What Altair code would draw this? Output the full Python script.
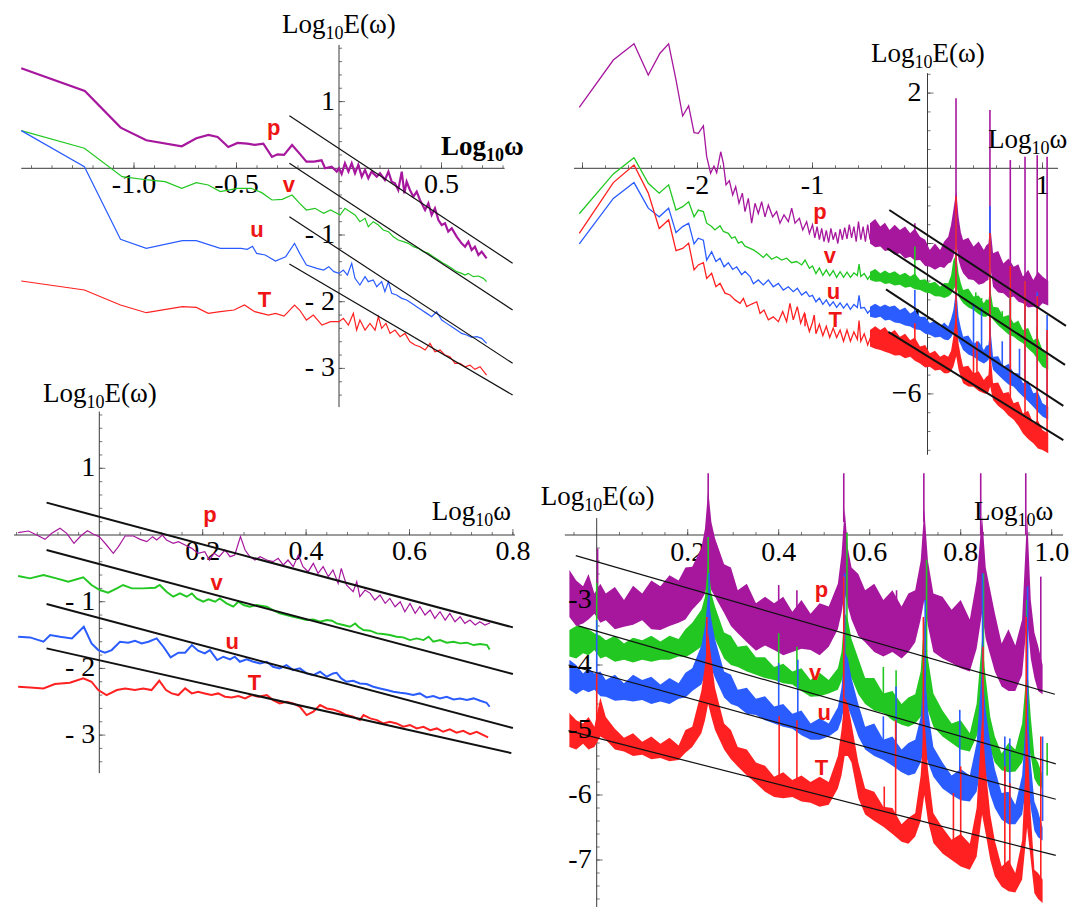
import altair as alt
import pandas as pd

PURPLE = "#A6179E"
GREEN = "#22C722"
BLUE = "#2A5CFF"
RED = "#FF2121"
NAME_RED = "#EE1515"
AXIS = "#3a3a3a"
FIT = "#111111"
SERIF = "Liberation Serif"
SANS = "Liberation Sans"

# ================= Panel 1 (top-left): (Log10 w, Log10 E) =================
p1_p = [(-1.55, 1.50), (-1.24, 1.16), (-1.065, 0.61), (-0.94, 0.42), (-0.767, 0.33), (-0.696, 0.45),
        (-0.637, 0.50), (-0.592, 0.47), (-0.54, 0.32), (-0.495, 0.38), (-0.448, 0.37), (-0.411, 0.35),
        (-0.369, 0.37), (-0.327, 0.17), (-0.30, 0.21), (-0.268, 0.20), (-0.229, 0.35), (-0.192, 0.22),
        (-0.159, 0.10), (-0.122, 0.10), (-0.085, 0.12), (-0.068, 0.0), (-0.036, 0.025), (-0.011, -0.05),
        (0.0, 0.0), (0.013, -0.085), (0.029, 0.075), (0.046, -0.05), (0.062, 0.075), (0.078, -0.075),
        (0.094, 0.05), (0.111, -0.125), (0.127, -0.025), (0.143, -0.15), (0.159, -0.05), (0.184, -0.125),
        (0.2, -0.075), (0.224, -0.175), (0.241, -0.05), (0.257, -0.2), (0.273, -0.225), (0.289, -0.325),
        (0.306, -0.05), (0.319, -0.375), (0.33, -0.2), (0.346, -0.325), (0.363, -0.425), (0.379, -0.35),
        (0.395, -0.475), (0.42, -0.625), (0.436, -0.525), (0.452, -0.7), (0.468, -0.6), (0.485, -0.775),
        (0.501, -0.85), (0.517, -0.825), (0.533, -0.95), (0.55, -0.9), (0.574, -1.025), (0.598, -1.125),
        (0.615, -1.175), (0.631, -1.1), (0.647, -1.225), (0.663, -1.175), (0.68, -1.3), (0.696, -1.25),
        (0.72, -1.35)]
p1_v = [(-1.55, 0.565), (-1.242, 0.30), (-1.058, -0.125), (-0.932, -0.175), (-0.848, -0.2), (-0.767, -0.3),
        (-0.696, -0.215), (-0.638, -0.25), (-0.579, -0.35), (-0.495, -0.3), (-0.428, -0.3), (-0.377, -0.365),
        (-0.327, -0.475), (-0.277, -0.465), (-0.229, -0.4), (-0.192, -0.525), (-0.159, -0.625),
        (-0.117, -0.6), (-0.075, -0.675), (-0.041, -0.625), (0.005, -0.70), (0.029, -0.60), (0.054, -0.65),
        (0.078, -0.70), (0.102, -0.80), (0.127, -0.75), (0.143, -0.875), (0.167, -0.80), (0.192, -0.85),
        (0.216, -0.925), (0.241, -0.95), (0.265, -1.025), (0.289, -1.075), (0.314, -1.10), (0.338, -1.125),
        (0.363, -1.175), (0.387, -1.20), (0.411, -1.25), (0.436, -1.275), (0.46, -1.325), (0.485, -1.375),
        (0.509, -1.425), (0.525, -1.45), (0.55, -1.50), (0.574, -1.55), (0.598, -1.575), (0.615, -1.60),
        (0.631, -1.575), (0.655, -1.625), (0.68, -1.615), (0.704, -1.65), (0.72, -1.70)]
p1_u = [(-1.55, 0.565), (-1.242, 0.025), (-1.066, -1.065), (-0.94, -1.20), (-0.764, -1.085), (-0.696, -1.085),
        (-0.579, -1.2), (-0.478, -1.2), (-0.448, -1.215), (-0.422, -1.17), (-0.402, -1.275), (-0.36, -1.30),
        (-0.31, -1.39), (-0.26, -1.325), (-0.217, -1.125), (-0.192, -1.275), (-0.159, -1.45), (-0.108, -1.50),
        (-0.075, -1.525), (-0.05, -1.475), (-0.025, -1.55), (0.0, -1.575), (0.021, -1.525), (0.041, -1.6),
        (0.062, -1.425), (0.078, -1.65), (0.102, -1.75), (0.127, -1.625), (0.143, -1.70), (0.167, -1.675),
        (0.184, -1.775), (0.208, -1.70), (0.224, -1.85), (0.241, -1.70), (0.257, -1.875), (0.281, -1.90),
        (0.306, -1.95), (0.33, -1.975), (0.354, -2.025), (0.379, -2.075), (0.403, -2.125), (0.428, -2.175),
        (0.452, -2.225), (0.476, -2.15), (0.501, -2.275), (0.525, -2.325), (0.55, -2.375), (0.574, -2.425),
        (0.598, -2.475), (0.623, -2.50), (0.647, -2.535), (0.672, -2.525), (0.696, -2.55), (0.72, -2.625)]
p1_T = [(-1.55, -1.69), (-1.242, -1.825), (-1.066, -2.05), (-0.94, -2.165), (-0.764, -2.075), (-0.696, -2.085),
        (-0.638, -2.175), (-0.579, -2.15), (-0.512, -2.125), (-0.461, -2.05), (-0.411, -2.15), (-0.344, -2.20),
        (-0.31, -2.175), (-0.268, -2.215), (-0.217, -2.05), (-0.192, -2.125), (-0.159, -2.275), (-0.125, -2.20),
        (-0.083, -2.35), (-0.041, -2.30), (0.0, -2.30), (0.021, -2.25), (0.046, -2.35), (0.07, -2.175),
        (0.086, -2.425), (0.102, -2.275), (0.127, -2.425), (0.151, -2.325), (0.176, -2.425), (0.192, -2.225),
        (0.208, -2.40), (0.229, -2.325), (0.249, -2.475), (0.273, -2.425), (0.298, -2.525), (0.322, -2.475),
        (0.346, -2.60), (0.371, -2.65), (0.395, -2.675), (0.42, -2.725), (0.444, -2.625), (0.468, -2.75),
        (0.493, -2.725), (0.517, -2.80), (0.541, -2.825), (0.566, -2.925), (0.59, -2.925), (0.615, -2.975),
        (0.639, -2.95), (0.663, -3.015), (0.688, -2.975), (0.72, -3.10)]
p1_fit = [(-0.242, 0.789, 0.847, -1.424), (-0.242, 0.075, 0.847, -2.124),
          (-0.242, -0.726, 0.847, -2.924), (-0.242, -1.435, 0.847, -3.40)]
p1_names = [(-0.318, 0.60, "p"), (-0.244, -0.25, "v"), (-0.40, -0.925, "u"), (-0.363, -1.975, "T")]
p1_xlabels = [(-1.0, 0, "-1.0"), (-0.5, 0, "-0.5"), (0.5, 0, "0.5")]
p1_ylabels = [(0, 1, "1"), (0, -1, "- 1"), (0, -2, "- 2"), (0, -3, "- 3")]

# ================= Panel 2 (top-right) =================
p2_p = [(-3.028, 1.62), (-2.732, 2.88), (-2.552, 3.31), (-2.428, 2.48), (-2.326, 3.06), (-2.251, 3.31),
        (-2.187, 2.35), (-2.129, 1.39), (-2.077, 1.66), (-2.03, 0.95), (-1.993, 0.93), (-1.949, 1.13),
        (-1.92, 0.31), (-1.886, -0.13), (-1.857, 0.06), (-1.833, -0.12), (-1.798, 0.44), (-1.775, 0.13),
        (-1.752, -0.44), (-1.723, -0.33), (-1.694, -0.71), (-1.668, -0.49), (-1.639, -0.93), (-1.61, -0.66),
        (-1.587, -1.15), (-1.558, -0.80), (-1.529, -1.46), (-1.5, -0.93), (-1.471, -1.20), (-1.442, -0.89),
        (-1.413, -1.29), (-1.384, -0.98), (-1.346, -1.29), (-1.312, -1.15), (-1.283, -1.46), (-1.248, -1.24),
        (-1.21, -1.42), (-1.181, -1.06), (-1.152, -1.46), (-1.114, -1.33), (-1.085, -1.64), (-1.051, -1.42),
        (-1.027, -1.73), (-1.0, -1.5), (-0.98, -1.85), (-0.96, -1.55), (-0.94, -1.9), (-0.92, -1.6),
        (-0.9, -1.95), (-0.88, -1.65), (-0.86, -1.98), (-0.84, -1.6), (-0.82, -1.9), (-0.80, -1.7),
        (-0.78, -2.0), (-0.76, -1.62), (-0.74, -1.9), (-0.72, -1.58), (-0.70, -1.88), (-0.68, -1.5),
        (-0.66, -1.85), (-0.64, -1.55), (-0.62, -1.95), (-0.60, -1.42), (-0.58, -1.9), (-0.56, -1.55),
        (-0.54, -1.95), (-0.52, -1.5), (-0.50, -1.9), (-0.48, -1.6)]
p2_v = [(-3.028, -1.21), (-2.732, -0.15), (-2.552, 0.28), (-2.428, -0.40), (-2.333, -0.66), (-2.251, -0.44),
        (-2.187, -1.11), (-2.129, -1.02), (-2.077, -0.89), (-2.03, -1.29), (-1.993, -1.11), (-1.949, -1.15),
        (-1.92, -1.46), (-1.877, -1.55), (-1.849, -1.64), (-1.804, -1.53), (-1.775, -1.68), (-1.732, -1.73),
        (-1.703, -1.86), (-1.674, -1.82), (-1.645, -1.99), (-1.616, -1.95), (-1.587, -2.07), (-1.543, -2.13),
        (-1.514, -2.17), (-1.471, -2.26), (-1.428, -2.37), (-1.399, -2.28), (-1.355, -2.42), (-1.312, -2.35),
        (-1.268, -2.44), (-1.225, -2.39), (-1.181, -2.51), (-1.138, -2.48), (-1.094, -2.57), (-1.065, -2.44),
        (-1.027, -2.66), (-1.0, -2.6), (-0.97, -2.8), (-0.94, -2.65), (-0.91, -2.85), (-0.88, -2.7),
        (-0.85, -2.86), (-0.82, -2.72), (-0.79, -2.9), (-0.76, -2.75), (-0.73, -2.9), (-0.70, -2.76),
        (-0.67, -2.9), (-0.64, -2.78), (-0.61, -2.85), (-0.595, -2.55), (-0.58, -2.88), (-0.55, -2.8),
        (-0.52, -2.95), (-0.49, -2.82)]
p2_u = [(-3.028, -2.01), (-2.732, -0.80), (-2.552, -0.38), (-2.428, -1.06), (-2.333, -1.29), (-2.251, -1.06),
        (-2.187, -1.71), (-2.129, -1.55), (-2.077, -1.46), (-2.03, -2.01), (-1.993, -1.86), (-1.949, -1.91),
        (-1.92, -2.44), (-1.877, -2.22), (-1.84, -2.48), (-1.804, -2.39), (-1.769, -2.62), (-1.732, -2.51),
        (-1.694, -2.69), (-1.659, -2.62), (-1.616, -2.83), (-1.587, -2.74), (-1.543, -2.88), (-1.514, -3.07),
        (-1.471, -2.97), (-1.428, -3.10), (-1.384, -2.97), (-1.341, -3.15), (-1.297, -3.06), (-1.254, -3.24),
        (-1.21, -3.15), (-1.167, -3.28), (-1.132, -3.19), (-1.094, -3.37), (-1.056, -3.28), (-1.027, -3.41),
        (-1.0, -3.38), (-0.97, -3.55), (-0.94, -3.45), (-0.91, -3.62), (-0.88, -3.5), (-0.85, -3.66),
        (-0.82, -3.55), (-0.79, -3.7), (-0.76, -3.58), (-0.73, -3.72), (-0.70, -3.6), (-0.67, -3.75),
        (-0.64, -3.62), (-0.61, -3.7), (-0.595, -3.38), (-0.58, -3.72), (-0.55, -3.7), (-0.52, -3.85),
        (-0.49, -3.75)]
p2_T = [(-3.028, -1.73), (-2.732, -0.38), (-2.552, 0.09), (-2.428, -0.66), (-2.333, -1.60), (-2.251, -1.37),
        (-2.187, -2.19), (-2.129, -2.13), (-2.077, -1.99), (-2.03, -2.70), (-1.993, -2.57), (-1.949, -2.51),
        (-1.92, -2.93), (-1.877, -2.79), (-1.84, -3.15), (-1.804, -3.06), (-1.761, -3.32), (-1.717, -3.37),
        (-1.674, -3.50), (-1.63, -3.59), (-1.601, -3.46), (-1.572, -3.68), (-1.529, -3.61), (-1.485, -3.55),
        (-1.456, -3.86), (-1.422, -3.77), (-1.384, -4.03), (-1.341, -3.95), (-1.297, -4.08), (-1.259, -3.81),
        (-1.225, -4.08), (-1.196, -3.59), (-1.167, -4.03), (-1.132, -3.68), (-1.103, -4.12), (-1.071, -3.86),
        (-1.027, -4.34), (-1.0, -4.1), (-0.985, -3.9), (-0.97, -4.4), (-0.94, -4.15), (-0.91, -4.45),
        (-0.88, -4.2), (-0.85, -4.5), (-0.82, -4.25), (-0.79, -4.5), (-0.76, -4.3), (-0.73, -4.6),
        (-0.70, -4.3), (-0.67, -4.6), (-0.64, -4.35), (-0.61, -4.55), (-0.595, -4.05), (-0.58, -4.6),
        (-0.55, -4.4), (-0.52, -4.7), (-0.49, -4.45)]
# dense high-frequency part: (x, upper, lower)
p2_p_band = [(-0.5, -1.46, -2.0), (-0.455, -1.35, -2.1), (-0.41, -1.55, -2.08), (-0.37, -1.45, -2.2),
             (-0.33, -1.64, -2.17), (-0.285, -1.5, -2.3), (-0.24, -1.64, -2.26), (-0.195, -1.55, -2.4),
             (-0.15, -1.73, -2.35), (-0.11, -1.6, -2.45), (-0.065, -1.82, -2.44), (-0.02, -1.9, -2.6),
             (0.02, -2.17, -2.62), (0.065, -2.0, -2.7), (0.11, -2.17, -2.62), (0.145, -1.95, -2.65),
             (0.18, -1.82, -2.53), (0.205, -1.5, -2.5), (0.225, -1.11, -2.35), (0.25, -0.6, -2.0),
             (0.27, -1.29, -2.44), (0.29, -1.7, -2.65), (0.31, -1.91, -2.79), (0.355, -1.85, -2.95),
             (0.4, -2.08, -2.97), (0.445, -1.95, -3.1), (0.49, -2.17, -3.06), (0.51, -2.05, -3.0),
             (0.53, -2.0, -2.97), (0.545, -1.5, -2.6), (0.57, -2.26, -3.15), (0.615, -2.2, -3.3),
             (0.66, -2.53, -3.32), (0.705, -2.4, -3.45), (0.75, -2.62, -3.41), (0.79, -2.55, -3.55),
             (0.83, -2.88, -3.59), (0.875, -2.7, -3.7), (0.92, -2.97, -3.68), (0.96, -2.75, -3.72),
             (1.0, -2.88, -3.59), (1.05, -3.0, -3.65)]
p2_v_band = [(-0.5, -2.75, -2.97), (-0.455, -2.68, -3.02), (-0.41, -2.79, -3.01), (-0.37, -2.72, -3.08),
             (-0.33, -2.79, -3.06), (-0.285, -2.74, -3.12), (-0.24, -2.84, -3.10), (-0.195, -2.78, -3.18),
             (-0.15, -2.88, -3.15), (-0.11, -2.8, -3.22), (-0.065, -2.97, -3.24), (-0.02, -2.95, -3.3),
             (0.02, -3.06, -3.32), (0.065, -3.02, -3.4), (0.11, -3.15, -3.41), (0.145, -3.05, -3.45),
             (0.18, -3.06, -3.41), (0.205, -2.85, -3.35), (0.225, -2.44, -3.24), (0.25, -2.3, -3.1),
             (0.27, -2.79, -3.41), (0.29, -3.05, -3.5), (0.31, -3.24, -3.59), (0.355, -3.2, -3.7),
             (0.4, -3.41, -3.77), (0.445, -3.38, -3.88), (0.49, -3.59, -3.95), (0.51, -3.48, -3.95),
             (0.53, -3.5, -3.9), (0.545, -3.2, -3.85), (0.57, -3.68, -4.03), (0.615, -3.7, -4.18),
             (0.66, -3.95, -4.30), (0.705, -3.9, -4.42), (0.75, -4.12, -4.48), (0.79, -4.05, -4.58),
             (0.83, -4.30, -4.65), (0.875, -4.25, -4.8), (0.92, -4.57, -4.92), (0.96, -4.5, -5.1),
             (1.0, -4.83, -5.28), (1.05, -5.0, -5.36)]
p2_u_band = [(-0.5, -3.68, -3.95), (-0.455, -3.6, -3.98), (-0.41, -3.68, -3.95), (-0.37, -3.62, -4.05),
             (-0.33, -3.68, -4.03), (-0.285, -3.65, -4.1), (-0.24, -3.77, -4.12), (-0.195, -3.7, -4.18),
             (-0.15, -3.86, -4.21), (-0.11, -3.78, -4.28), (-0.065, -3.95, -4.30), (-0.02, -3.95, -4.4),
             (0.02, -4.12, -4.43), (0.065, -4.05, -4.5), (0.11, -4.21, -4.48), (0.145, -4.1, -4.55),
             (0.18, -4.21, -4.57), (0.205, -4.0, -4.5), (0.225, -3.77, -4.39), (0.25, -3.2, -4.2),
             (0.27, -3.95, -4.57), (0.29, -4.25, -4.7), (0.31, -4.48, -4.83), (0.355, -4.45, -4.95),
             (0.4, -4.66, -5.01), (0.445, -4.6, -5.12), (0.49, -4.83, -5.19), (0.51, -4.72, -5.15),
             (0.53, -4.7, -5.1), (0.545, -4.2, -5.0), (0.57, -5.01, -5.36), (0.615, -5.0, -5.5),
             (0.66, -5.28, -5.63), (0.705, -5.2, -5.75), (0.75, -5.45, -5.81), (0.79, -5.45, -5.95),
             (0.83, -5.72, -6.07), (0.875, -5.65, -6.2), (0.92, -5.98, -6.34), (0.96, -5.95, -6.48),
             (1.0, -6.25, -6.6), (1.05, -6.34, -6.69)]
p2_T_band = [(-0.5, -4.30, -4.74), (-0.455, -4.2, -4.8), (-0.41, -4.30, -4.83), (-0.37, -4.22, -4.88),
             (-0.33, -4.39, -4.92), (-0.285, -4.3, -4.98), (-0.24, -4.48, -4.97), (-0.195, -4.4, -5.05),
             (-0.15, -4.57, -5.01), (-0.11, -4.5, -5.12), (-0.065, -4.74, -5.19), (-0.02, -4.7, -5.3),
             (0.02, -4.92, -5.28), (0.065, -4.85, -5.38), (0.11, -5.01, -5.36), (0.145, -4.95, -5.45),
             (0.18, -5.01, -5.45), (0.205, -4.85, -5.4), (0.225, -4.48, -5.28), (0.25, -3.8, -5.0),
             (0.27, -4.66, -5.36), (0.29, -5.0, -5.55), (0.31, -5.28, -5.72), (0.355, -5.25, -5.8),
             (0.4, -5.45, -5.81), (0.445, -5.4, -5.92), (0.49, -5.63, -5.98), (0.51, -5.55, -6.0),
             (0.53, -5.5, -5.95), (0.545, -4.8, -5.8), (0.57, -5.72, -6.16), (0.615, -5.7, -6.32),
             (0.66, -5.98, -6.43), (0.705, -5.95, -6.58), (0.75, -6.25, -6.69), (0.79, -6.2, -6.85),
             (0.83, -6.52, -7.05), (0.875, -6.45, -7.2), (0.92, -6.78, -7.31), (0.96, -6.7, -7.45),
             (1.0, -6.96, -7.49), (1.05, -7.05, -7.58)]
# narrow resonance spikes: (x, base, top)
p2_p_spk = [(-0.11, -2.0, -1.46), (0.248, -1.5, 1.86), (0.543, -2.2, 1.55), (0.72, -3.0, 0.22),
            (0.848, -3.2, 0.31), (0.954, -3.3, 0.35), (1.04, -3.3, 0.31)]
p2_v_spk = [(-0.11, -3.1, -2.08), (0.248, -2.8, -2.3), (0.42, -3.6, -3.3), (0.47, -3.8, -3.45),
            (0.543, -3.8, -2.8), (0.65, -4.1, -3.8), (0.72, -4.3, -3.3), (0.848, -4.5, -3.8),
            (0.954, -4.7, -4.2), (1.04, -5.1, -4.5)]
p2_u_spk = [(-0.11, -4.0, -3.24), (0.248, -4.0, -1.2), (0.40, -4.8, -3.6), (0.47, -5.0, -3.7),
            (0.543, -4.9, -1.0), (0.65, -5.4, -4.6), (0.72, -5.6, -2.9), (0.80, -5.9, -4.8),
            (0.848, -5.9, -3.0), (0.954, -6.2, -3.3), (1.04, -6.5, -3.9)]
p2_T_spk = [(-1.065, -4.2, -3.86), (-0.11, -4.9, -4.12), (0.248, -5.0, -0.75), (0.40, -5.6, -4.74),
            (0.43, -5.7, -4.6), (0.543, -5.8, -1.72), (0.72, -6.4, -2.6), (0.848, -6.8, -3.0),
            (0.954, -7.0, -3.4), (1.04, -7.3, -4.3)]
p2_fit = [(-0.332, -1.11, 1.204, -4.19), (-0.35, -2.13, 1.196, -5.23),
          (-0.361, -3.22, 1.181, -6.32), (-0.341, -4.35, 1.181, -7.23)]
p2_names = [(-0.934, -1.15, "p"), (-0.849, -2.33, "v"), (-0.818, -3.28, "u"), (-0.803, -4.03, "T")]
p2_xlabels = [(-2, 0, "-2"), (-1, 0, "-1"), (1, 0, "1")]
p2_ylabels = [(0, 2, "2"), (0, -2, "\u22122"), (0, -4, "\u22124"), (0, -6, "\u22126")]

# ================= Panel 3 (bottom-left) =================
p3_p = [(-0.157, 0.035), (-0.137, 0.06), (-0.121, 0.0), (-0.105, -0.065), (-0.092, 0.025), (-0.076, 0.10),
        (-0.063, 0.025), (-0.049, -0.125), (-0.036, -0.015), (-0.023, 0.065), (-0.012, 0.015), (0.0, -0.025),
        (0.014, -0.15), (0.027, -0.275), (0.037, -0.175), (0.05, -0.015), (0.066, -0.015), (0.079, -0.065),
        (0.092, -0.10), (0.103, -0.025), (0.111, -0.075), (0.122, 0.0), (0.13, -0.075), (0.143, -0.125),
        (0.153, -0.10), (0.166, -0.15), (0.179, -0.20), (0.191, -0.275), (0.204, -0.25), (0.213, -0.375),
        (0.222, -0.275), (0.232, -0.325), (0.243, -0.225), (0.253, -0.325), (0.262, -0.30), (0.273, -0.025),
        (0.282, -0.225), (0.291, -0.325), (0.301, -0.375), (0.311, -0.325), (0.324, -0.375), (0.336, -0.40),
        (0.346, -0.35), (0.356, -0.45), (0.365, -0.375), (0.375, -0.475), (0.385, -0.30), (0.394, -0.475),
        (0.404, -0.55), (0.414, -0.425), (0.423, -0.575), (0.433, -0.475), (0.443, -0.625), (0.452, -0.525),
        (0.462, -0.725), (0.468, -0.50), (0.478, -0.75), (0.491, -0.85), (0.498, -0.70), (0.504, -0.925),
        (0.514, -0.825), (0.524, -0.875), (0.533, -0.975), (0.543, -0.90), (0.553, -1.025), (0.562, -0.95),
        (0.572, -1.075), (0.582, -1.0), (0.591, -1.15), (0.601, -1.025), (0.611, -1.175), (0.62, -1.075),
        (0.63, -1.20), (0.64, -1.125), (0.649, -1.25), (0.659, -1.15), (0.669, -1.275), (0.678, -1.175),
        (0.688, -1.30), (0.698, -1.225), (0.707, -1.325), (0.717, -1.275), (0.727, -1.35), (0.736, -1.30),
        (0.746, -1.35), (0.756, -1.315)]
p3_v = [(-0.157, -0.615), (-0.134, -0.65), (-0.108, -0.60), (-0.083, -0.65), (-0.06, -0.70), (-0.031, -0.635),
        (-0.015, -0.75), (0.001, -0.825), (0.017, -0.865), (0.034, -0.80), (0.046, -0.75), (0.063, -0.80),
        (0.085, -0.80), (0.108, -0.79), (0.117, -0.75), (0.13, -0.85), (0.143, -0.925), (0.156, -0.875),
        (0.169, -0.925), (0.179, -0.875), (0.188, -0.95), (0.201, -1.0), (0.211, -0.965), (0.224, -1.0),
        (0.233, -0.95), (0.246, -1.025), (0.259, -1.075), (0.269, -1.0), (0.279, -1.05), (0.291, -1.075),
        (0.304, -1.05), (0.324, -1.075), (0.336, -1.125), (0.349, -1.175), (0.362, -1.20), (0.375, -1.225),
        (0.388, -1.25), (0.401, -1.275), (0.414, -1.265), (0.427, -1.30), (0.44, -1.275), (0.45, -1.285),
        (0.459, -1.325), (0.472, -1.35), (0.485, -1.375), (0.495, -1.325), (0.501, -1.375), (0.511, -1.425),
        (0.524, -1.435), (0.537, -1.475), (0.549, -1.485), (0.562, -1.50), (0.575, -1.525), (0.588, -1.535),
        (0.601, -1.575), (0.614, -1.55), (0.627, -1.575), (0.637, -1.525), (0.646, -1.60), (0.659, -1.575),
        (0.672, -1.615), (0.685, -1.60), (0.698, -1.625), (0.711, -1.615), (0.724, -1.65), (0.737, -1.635),
        (0.75, -1.65), (0.755, -1.715)]
p3_u = [(-0.157, -1.525), (-0.134, -1.535), (-0.108, -1.60), (-0.095, -1.50), (-0.076, -1.525), (-0.053, -1.55),
        (-0.03, -1.375), (-0.015, -1.625), (-0.002, -1.725), (0.011, -1.765), (0.024, -1.725), (0.04, -1.60),
        (0.056, -1.615), (0.069, -1.585), (0.082, -1.625), (0.095, -1.60), (0.111, -1.55), (0.124, -1.675),
        (0.138, -1.835), (0.153, -1.765), (0.166, -1.765), (0.179, -1.65), (0.191, -1.735), (0.204, -1.775),
        (0.214, -1.725), (0.228, -1.875), (0.24, -1.825), (0.253, -1.865), (0.262, -1.825), (0.272, -1.90),
        (0.285, -1.865), (0.298, -1.90), (0.311, -1.925), (0.324, -1.90), (0.336, -1.975), (0.349, -2.0),
        (0.362, -1.95), (0.375, -2.025), (0.388, -2.0), (0.401, -2.075), (0.414, -2.10), (0.427, -2.05),
        (0.44, -2.125), (0.452, -2.075), (0.459, -2.065), (0.468, -2.15), (0.478, -2.20), (0.491, -2.185),
        (0.504, -2.225), (0.517, -2.235), (0.53, -2.275), (0.543, -2.30), (0.556, -2.325), (0.569, -2.35),
        (0.582, -2.365), (0.594, -2.375), (0.607, -2.40), (0.62, -2.375), (0.633, -2.435), (0.646, -2.415),
        (0.659, -2.45), (0.672, -2.425), (0.685, -2.465), (0.698, -2.45), (0.711, -2.475), (0.724, -2.45),
        (0.737, -2.485), (0.749, -2.515), (0.755, -2.575)]
p3_T = [(-0.157, -2.275), (-0.134, -2.285), (-0.108, -2.30), (-0.086, -2.235), (-0.057, -2.215), (-0.031, -2.15),
        (-0.015, -2.20), (-0.002, -2.325), (0.014, -2.40), (0.034, -2.325), (0.05, -2.30), (0.069, -2.325),
        (0.085, -2.30), (0.101, -2.325), (0.116, -2.185), (0.129, -2.325), (0.14, -2.375), (0.153, -2.40),
        (0.166, -2.30), (0.179, -2.375), (0.191, -2.35), (0.204, -2.375), (0.217, -2.40), (0.23, -2.375),
        (0.243, -2.425), (0.256, -2.435), (0.269, -2.415), (0.282, -2.45), (0.295, -2.40), (0.308, -2.425),
        (0.324, -2.40), (0.336, -2.475), (0.349, -2.525), (0.362, -2.50), (0.375, -2.525), (0.388, -2.575),
        (0.401, -2.70), (0.414, -2.65), (0.427, -2.55), (0.44, -2.60), (0.452, -2.615), (0.465, -2.65),
        (0.478, -2.70), (0.491, -2.725), (0.504, -2.775), (0.511, -2.70), (0.524, -2.75), (0.537, -2.775),
        (0.549, -2.825), (0.562, -2.80), (0.575, -2.825), (0.588, -2.875), (0.601, -2.85), (0.614, -2.90),
        (0.627, -2.875), (0.64, -2.925), (0.653, -2.90), (0.665, -2.95), (0.678, -2.915), (0.691, -2.965),
        (0.704, -2.935), (0.717, -2.985), (0.73, -2.95), (0.743, -3.0), (0.752, -3.035)]
p3_fit = [(-0.102, 0.485, 0.80, -1.385), (-0.102, -0.225, 0.80, -2.085),
          (-0.102, -1.035, 0.80, -2.894), (-0.102, -1.70, 0.797, -3.27)]
p3_names = [(0.214, 0.30, "p"), (0.227, -0.725, "v"), (0.257, -1.60, "u"), (0.30, -2.22, "T")]
p3_xlabels = [(0.2, 0, "0.2"), (0.4, 0, "0.4"), (0.6, 0, "0.6"), (0.8, 0, "0.8")]
p3_ylabels = [(0, 1, "1"), (0, -1, "- 1"), (0, -2, "- 2"), (0, -3, "- 3")]

# ================= Panel 4 (bottom-right) =================
p4_p_band = [(-0.06, -2.54, -3.26), (-0.045, -2.7, -3.4), (-0.03, -2.79, -3.36), (-0.018, -2.6, -3.3),
             (-0.005, -2.9, -3.21), (0.008, -2.75, -3.35), (0.02, -2.9, -3.31), (0.04, -2.8, -3.45),
             (0.06, -3.0, -3.41), (0.08, -2.78, -3.38), (0.10, -2.9, -3.31), (0.12, -2.7, -3.45),
             (0.14, -2.79, -3.46), (0.16, -2.62, -3.4), (0.18, -2.70, -3.35), (0.195, -2.5, -3.3),
             (0.21, -2.49, -3.15), (0.23, -2.2, -3.0), (0.238, -1.9, -2.9), (0.245, -1.3, -2.7),
             (0.252, -1.8, -2.85), (0.26, -2.05, -2.95), (0.28, -2.45, -3.2), (0.295, -2.5, -3.4),
             (0.31, -2.85, -3.51), (0.33, -2.75, -3.65), (0.35, -3.05, -3.78), (0.37, -2.95, -3.7),
             (0.39, -3.05, -3.77), (0.41, -2.95, -3.85), (0.43, -3.18, -3.8), (0.45, -3.0, -3.75),
             (0.47, -3.21, -3.77), (0.49, -3.05, -3.85), (0.51, -3.1, -3.72), (0.53, -2.75, -3.45),
             (0.538, -2.3, -3.2), (0.545, -1.6, -2.9), (0.552, -2.2, -3.1), (0.56, -2.5, -3.3),
             (0.575, -2.6, -3.55), (0.59, -2.85, -3.65), (0.61, -2.75, -3.8), (0.63, -3.0, -3.87),
             (0.65, -2.85, -3.8), (0.67, -3.1, -3.9), (0.685, -2.9, -3.8), (0.70, -2.85, -3.65),
             (0.712, -2.4, -3.3), (0.72, -1.6, -3.0), (0.728, -2.4, -3.4), (0.74, -2.9, -3.8),
             (0.76, -2.95, -3.9), (0.78, -3.15, -3.97), (0.80, -3.0, -4.05), (0.82, -3.3, -4.1),
             (0.835, -2.7, -3.75), (0.847, -1.7, -3.2), (0.855, -2.5, -3.6), (0.865, -2.85, -3.85),
             (0.875, -3.2, -4.1), (0.89, -3.67, -4.33), (0.905, -3.45, -4.4), (0.92, -3.7, -4.4),
             (0.935, -3.3, -4.15), (0.946, -1.7, -3.3), (0.954, -3.0, -3.9), (0.962, -3.5, -4.2),
             (0.97, -3.7, -4.4), (0.98, -4.0, -4.45)]
p4_v_band = [(-0.06, -3.46, -3.87), (-0.045, -3.4, -3.9), (-0.03, -3.41, -3.82), (-0.018, -3.45, -3.85),
             (-0.005, -3.51, -3.77), (0.008, -3.55, -3.9), (0.02, -3.62, -3.87), (0.04, -3.55, -3.95),
             (0.06, -3.67, -3.92), (0.08, -3.58, -3.96), (0.10, -3.62, -3.92), (0.12, -3.55, -3.95),
             (0.14, -3.64, -3.92), (0.16, -3.55, -3.92), (0.18, -3.6, -3.87), (0.195, -3.45, -3.88),
             (0.21, -3.35, -3.82), (0.23, -3.15, -3.72), (0.238, -2.95, -3.6), (0.245, -2.4, -3.4),
             (0.252, -2.9, -3.5), (0.26, -3.1, -3.6), (0.28, -3.5, -3.9), (0.295, -3.55, -4.0),
             (0.31, -3.72, -4.03), (0.33, -3.7, -4.1), (0.35, -3.88, -4.15), (0.37, -3.88, -4.2),
             (0.39, -4.03, -4.23), (0.41, -3.98, -4.28), (0.43, -4.1, -4.3), (0.45, -4.05, -4.4),
             (0.47, -4.23, -4.49), (0.49, -4.12, -4.48), (0.51, -4.23, -4.44), (0.53, -4.05, -4.38),
             (0.538, -3.8, -4.25), (0.545, -3.2, -4.1), (0.552, -3.3, -4.1), (0.56, -3.6, -4.2),
             (0.575, -3.9, -4.45), (0.59, -4.2, -4.6), (0.61, -4.2, -4.7), (0.63, -4.44, -4.74),
             (0.65, -4.4, -4.85), (0.67, -4.6, -4.92), (0.685, -4.5, -4.95), (0.70, -4.45, -4.9),
             (0.712, -4.1, -4.8), (0.72, -3.3, -4.6), (0.728, -3.9, -4.7), (0.74, -4.44, -4.95),
             (0.76, -4.7, -5.1), (0.78, -4.9, -5.2), (0.80, -4.85, -5.3), (0.82, -5.05, -5.33),
             (0.835, -4.6, -5.1), (0.847, -3.6, -4.8), (0.855, -4.2, -5.0), (0.865, -4.8, -5.3),
             (0.875, -5.1, -5.5), (0.89, -5.36, -5.62), (0.905, -5.2, -5.65), (0.92, -5.3, -5.64),
             (0.935, -4.9, -5.5), (0.946, -4.0, -5.2), (0.954, -4.8, -5.4), (0.962, -5.4, -5.75),
             (0.97, -5.5, -5.85), (0.98, -5.7, -5.9)]
p4_u_band = [(-0.06, -3.92, -4.38), (-0.045, -4.0, -4.45), (-0.03, -4.13, -4.38), (-0.018, -4.05, -4.42),
             (-0.005, -4.13, -4.38), (0.008, -4.1, -4.48), (0.02, -4.23, -4.49), (0.04, -4.15, -4.55),
             (0.06, -4.28, -4.54), (0.08, -4.15, -4.56), (0.10, -4.23, -4.54), (0.12, -4.18, -4.6),
             (0.14, -4.3, -4.56), (0.16, -4.2, -4.6), (0.18, -4.28, -4.52), (0.195, -4.12, -4.5),
             (0.21, -4.05, -4.4), (0.23, -3.7, -4.3), (0.238, -3.4, -4.15), (0.245, -2.9, -3.9),
             (0.252, -3.3, -4.05), (0.26, -3.6, -4.2), (0.28, -4.1, -4.5), (0.295, -4.15, -4.6),
             (0.31, -4.38, -4.64), (0.33, -4.35, -4.75), (0.35, -4.52, -4.77), (0.37, -4.48, -4.85),
             (0.39, -4.64, -4.9), (0.41, -4.6, -4.95), (0.43, -4.75, -4.98), (0.45, -4.7, -5.08),
             (0.47, -4.9, -5.15), (0.49, -4.82, -5.15), (0.51, -4.9, -5.1), (0.53, -4.65, -5.0),
             (0.538, -4.35, -4.85), (0.545, -3.8, -4.6), (0.552, -3.9, -4.65), (0.56, -4.2, -4.8),
             (0.575, -4.6, -5.1), (0.59, -4.95, -5.3), (0.61, -4.9, -5.4), (0.63, -5.15, -5.46),
             (0.65, -5.1, -5.55), (0.67, -5.3, -5.65), (0.685, -5.2, -5.7), (0.70, -5.15, -5.67),
             (0.712, -4.8, -5.5), (0.72, -4.0, -5.3), (0.728, -4.7, -5.5), (0.74, -5.26, -5.72),
             (0.76, -5.5, -5.9), (0.78, -5.7, -6.0), (0.80, -5.6, -6.08), (0.82, -5.7, -6.1),
             (0.835, -5.2, -5.95), (0.847, -4.0, -5.5), (0.855, -4.7, -5.7), (0.865, -5.2, -6.0),
             (0.875, -5.6, -6.2), (0.89, -5.97, -6.38), (0.905, -5.95, -6.45), (0.92, -6.15, -6.45),
             (0.935, -5.7, -6.3), (0.946, -4.5, -5.8), (0.954, -5.5, -6.2), (0.962, -6.1, -6.55),
             (0.97, -6.25, -6.65), (0.98, -6.5, -6.7)]
p4_T_band = [(-0.06, -4.74, -5.26), (-0.045, -4.85, -5.3), (-0.03, -4.9, -5.21), (-0.018, -4.8, -5.3),
             (-0.005, -4.95, -5.26), (0.008, -4.5, -5.1), (0.02, -4.8, -5.15), (0.04, -4.98, -5.3),
             (0.06, -5.12, -5.33), (0.08, -5.05, -5.4), (0.10, -5.18, -5.38), (0.12, -5.1, -5.45),
             (0.14, -5.21, -5.43), (0.16, -5.12, -5.48), (0.18, -5.24, -5.46), (0.195, -5.0, -5.35),
             (0.21, -4.95, -5.26), (0.23, -4.4, -5.05), (0.238, -4.0, -4.85), (0.245, -3.5, -4.6),
             (0.252, -3.9, -4.8), (0.26, -4.35, -5.0), (0.28, -4.9, -5.3), (0.295, -5.0, -5.45),
             (0.31, -5.26, -5.56), (0.33, -5.3, -5.7), (0.35, -5.5, -5.82), (0.37, -5.55, -5.95),
             (0.39, -5.72, -6.03), (0.41, -5.65, -6.05), (0.43, -5.77, -6.03), (0.45, -5.7, -6.1),
             (0.47, -5.8, -6.12), (0.49, -5.72, -6.18), (0.51, -5.8, -6.15), (0.53, -5.4, -5.9),
             (0.538, -5.0, -5.7), (0.545, -4.5, -5.4), (0.552, -4.6, -5.4), (0.56, -4.9, -5.5),
             (0.575, -5.5, -6.05), (0.59, -5.9, -6.3), (0.61, -5.95, -6.4), (0.63, -6.18, -6.49),
             (0.65, -6.2, -6.6), (0.67, -6.45, -6.72), (0.685, -6.35, -6.75), (0.70, -6.28, -6.64),
             (0.712, -5.7, -6.4), (0.72, -4.8, -6.0), (0.728, -5.6, -6.4), (0.74, -6.28, -6.74),
             (0.76, -6.5, -6.9), (0.78, -6.69, -7.0), (0.80, -6.6, -7.1), (0.82, -6.75, -7.15),
             (0.835, -6.2, -6.95), (0.847, -4.8, -6.3), (0.855, -5.6, -6.6), (0.865, -6.3, -7.0),
             (0.875, -6.7, -7.25), (0.89, -7.1, -7.41), (0.905, -7.0, -7.48), (0.92, -7.2, -7.5),
             (0.935, -6.7, -7.3), (0.946, -5.0, -6.5), (0.954, -6.3, -7.0), (0.962, -7.15, -7.51),
             (0.97, -7.2, -7.6), (0.98, -7.3, -7.66)]
p4_p_spk = [(0.002, -3.0, -2.21), (0.245, -1.5, -1.05), (0.40, -3.4, -2.77), (0.44, -3.5, -2.85),
            (0.543, -1.8, -1.05), (0.659, -3.4, -2.85), (0.719, -1.8, -1.05), (0.844, -2.0, -1.05),
            (0.943, -2.0, -1.05), (0.976, -4.0, -2.64)]
p4_v_spk = [(0.0, -3.6, -2.74), (0.245, -2.6, -2.03), (0.40, -4.1, -3.51), (0.44, -4.2, -3.72),
            (0.55, -3.5, -1.97), (0.63, -4.5, -4.03), (0.658, -4.6, -4.08), (0.725, -3.8, -2.38),
            (0.85, -4.0, -2.59), (0.945, -4.5, -3.0), (0.99, -5.7, -5.2)]
p4_u_spk = [(0.0, -4.2, -3.31), (0.247, -3.2, -2.59), (0.40, -4.8, -3.97), (0.442, -4.9, -3.92),
            (0.545, -4.0, -2.59), (0.63, -5.2, -4.79), (0.658, -5.3, -4.33), (0.722, -4.5, -3.0),
            (0.798, -5.8, -4.69), (0.848, -4.5, -2.59), (0.897, -6.0, -5.1), (0.908, -6.1, -5.13),
            (0.947, -5.0, -2.79), (0.98, -6.4, -5.1)]
p4_T_spk = [(0.0, -5.0, -4.13), (0.242, -4.0, -3.26), (0.401, -5.9, -4.79), (0.44, -5.9, -4.85),
            (0.543, -4.8, -2.64), (0.632, -6.3, -5.87), (0.657, -6.4, -4.85), (0.718, -5.5, -3.26),
            (0.784, -6.8, -5.97), (0.80, -6.9, -5.56), (0.849, -5.5, -3.72), (0.897, -7.2, -5.56),
            (0.908, -7.3, -5.82), (0.944, -6.0, -3.26), (0.976, -7.3, -5.1)]
p4_fit = [(-0.046, -2.318, 1.007, -4.45), (-0.042, -3.395, 1.009, -5.52),
          (-0.062, -4.0, 1.009, -6.066), (-0.062, -5.01, 1.009, -6.93)]
p4_names = [(0.494, -2.85, "p"), (0.48, -4.13, "v"), (0.50, -4.74, "u"), (0.494, -5.59, "T")]
p4_xlabels = [(0.2, -2, "0.2"), (0.4, -2, "0.4"), (0.6, -2, "0.6"), (0.8, -2, "0.8"), (1.0, -2, "1.0")]
p4_ylabels = [(0, -3, "-3"), (0, -4, "-4"), (0, -5, "-5"), (0, -6, "-6"), (0, -7, "-7")]


class Panel:
    def __init__(self, x0, kx, y0, ky, xd, yd):
        self.xs = alt.Scale(domain=list(xd), range=[x0 + kx * xd[0], x0 + kx * xd[1]], nice=False, zero=False)
        self.ys = alt.Scale(domain=list(yd), range=[y0 - ky * yd[0], y0 - ky * yd[1]], nice=False, zero=False)
        self.layers = []

    def enc(self, **extra):
        d = dict(x=alt.X("x:Q", scale=self.xs, axis=None), y=alt.Y("y:Q", scale=self.ys, axis=None))
        d.update(extra)
        return d

    def line(self, pairs, color, width):
        df = pd.DataFrame(pairs, columns=["x", "y"])
        self.layers.append(alt.Chart(df).mark_line(color=color, strokeWidth=width).encode(**self.enc()))

    def band(self, triples, color):
        df = pd.DataFrame(triples, columns=["x", "y", "y2"])
        self.layers.append(alt.Chart(df).mark_area(color=color, opacity=1, orient="vertical")
                           .encode(**self.enc(y2=alt.Y2("y2:Q"))))

    def spikes(self, triples, color, width=1.6):
        df = pd.DataFrame(triples, columns=["x", "y2", "y"])
        self.layers.append(alt.Chart(df).mark_rule(color=color, strokeWidth=width)
                           .encode(**self.enc(y2=alt.Y2("y2:Q"))))

    def segs(self, quads, color, width):
        df = pd.DataFrame(quads, columns=["x", "y", "x2", "y2"])
        self.layers.append(alt.Chart(df).mark_rule(color=color, strokeWidth=width)
                           .encode(**self.enc(x2=alt.X2("x2:Q"), y2=alt.Y2("y2:Q"))))

    def axes(self, xr, yr, axis_y=0.0, axis_x=0.0):
        self.segs([(xr[0], axis_y, xr[1], axis_y), (axis_x, yr[0], axis_x, yr[1])], AXIS, 1)

    def xticks(self, vals, axis_y, size):
        df = pd.DataFrame({"x": vals, "y": [axis_y] * len(vals)})
        self.layers.append(alt.Chart(df).mark_tick(orient="vertical", size=size, thickness=1, color=AXIS,
                                                   yOffset=-size / 2).encode(**self.enc()))

    def yticks(self, vals, axis_x, size):
        df = pd.DataFrame({"x": [axis_x] * len(vals), "y": vals})
        self.layers.append(alt.Chart(df).mark_tick(orient="horizontal", size=size, thickness=1, color=AXIS,
                                                   xOffset=size / 2).encode(**self.enc()))

    def text(self, rows, **props):
        df = pd.DataFrame(rows, columns=["x", "y", "t"])
        self.layers.append(alt.Chart(df).mark_text(**props).encode(**self.enc(text=alt.Text("t:N"))))

    def title(self, x, y, tail, bold=False, size=27):
        weight = "bold" if bold else "normal"
        wlog = size * (1.667 if bold else 1.611)
        sub = round(size * 0.67)
        common = dict(font=SERIF, fontWeight=weight, align="left", baseline="alphabetic", color="black")
        self.text([(x, y, "Log")], fontSize=size, **common)
        self.text([(x, y, "10")], fontSize=sub, dx=wlog, dy=6, **common)
        self.text([(x, y, tail)], fontSize=size, dx=wlog + sub, **common)

    def names(self, rows):
        self.text(rows, font=SANS, fontWeight="bold", fontSize=22, color=NAME_RED,
                  align="center", baseline="middle")

    def chart(self):
        return alt.layer(*self.layers)


def xlab(panel, rows, size, dy):
    panel.text(rows, font=SERIF, fontSize=size, align="center", baseline="alphabetic", dy=dy, color="black")


def ylab(panel, rows, size, dx):
    panel.text(rows, font=SERIF, fontSize=size, align="right", baseline="middle", dx=dx, color="black")


# ---------------- Panel 1 ----------------
P1 = Panel(339, 205, 168.3, 66.7, (-1.6, 0.9), (-3.7, 2.2))
P1.axes((-1.55, 0.808), (-3.58, 1.85))
P1.xticks([i / 10 for i in range(-15, 9) if i != 0], 0, 3)
P1.xticks([-1.0, -0.5, 0.5], 0, 6)
P1.yticks([i / 5 for i in range(-17, 10) if i != 0], 0, 3)
P1.yticks([-3, -2, -1, 1], 0, 6)
xlab(P1, p1_xlabels, 28, 25)
ylab(P1, p1_ylabels, 28, -4)
P1.line(p1_p, PURPLE, 2.2)
P1.line(p1_v, GREEN, 1.2)
P1.line(p1_u, BLUE, 1.2)
P1.line(p1_T, RED, 1.2)
P1.segs(p1_fit, FIT, 1.2)
P1.names(p1_names)
P1.title(-0.278, 2.03, "E(\u03c9)")
P1.title(0.498, 0.2, "\u03c9", bold=True)

# ---------------- Panel 2 ----------------
P2 = Panel(927.5, 115, 168.3, 37.6, (-3.1, 1.2), (-7.8, 3.5))
P2.axes((-3.074, 1.135), (-7.62, 2.53))
P2.xticks([i / 5 for i in range(-15, 6) if i != 0], 0, 3)
P2.xticks([-3, -2, -1, 1], 0, 6)
P2.yticks([i / 2 for i in range(-15, 6) if i != 0], 0, 3)
P2.yticks([-6, -4, -2, 2], 0, 6)
xlab(P2, p2_xlabels, 28, 26)
ylab(P2, p2_ylabels, 28, -6)
for sparse, band, spk, col in [(p2_p, p2_p_band, p2_p_spk, PURPLE), (p2_v, p2_v_band, p2_v_spk, GREEN),
                               (p2_u, p2_u_band, p2_u_spk, BLUE), (p2_T, p2_T_band, p2_T_spk, RED)]:
    P2.line(sparse, col, 1.3)
    P2.band(band, col)
    P2.spikes(spk, col, 1.6)
P2.segs(p2_fit, FIT, 2)
P2.names(p2_names)
P2.title(-0.491, 2.835, "E(\u03c9)")
P2.title(0.526, 0.53, "\u03c9")

# ---------------- Panel 3 ----------------
P3 = Panel(99.3, 517, 535, 66.7, (-0.2, 0.85), (-3.7, 2.1))
P3.axes((-0.165, 0.804), (-3.57, 1.85))
P3.xticks([i * 0.04 for i in range(-4, 21) if i != 0], 0, 3)
P3.xticks([0.2, 0.4, 0.6, 0.8], 0, 6)
P3.yticks([i / 5 for i in range(-17, 10) if i != 0], 0, 3)
P3.yticks([-3, -2, -1, 1], 0, 6)
xlab(P3, p3_xlabels, 28, 25)
ylab(P3, p3_ylabels, 28, -4)
P3.line(p3_p, PURPLE, 1.2)
P3.line(p3_v, GREEN, 1.9)
P3.line(p3_u, BLUE, 2.0)
P3.line(p3_T, RED, 2.0)
P3.segs(p3_fit, FIT, 2)
P3.names(p3_names)
P3.title(-0.109, 2.0, "E(\u03c9)")
P3.title(0.643, 0.225, "\u03c9")

# ---------------- Panel 4 ----------------
P4 = Panel(596.7, 455, 405, 65, (-0.1, 1.1), (-7.8, -1.0))
P4.axes((-0.07, 1.025), (-7.75, -1.74), axis_y=-2.0)
P4.xticks([i * 0.05 for i in range(-1, 21) if i != 0], -2.0, 3)
P4.xticks([0.2, 0.4, 0.6, 0.8, 1.0], -2.0, 6)
P4.yticks([-i / 5 for i in range(11, 39)], 0, 3)
P4.yticks([-3, -4, -5, -6, -7], 0, 6)
xlab(P4, p4_xlabels, 28, 26)
for band, spk, col in [(p4_p_band, p4_p_spk, PURPLE), (p4_v_band, p4_v_spk, GREEN),
                       (p4_u_band, p4_u_spk, BLUE), (p4_T_band, p4_T_spk, RED)]:
    P4.band(band, col)
    P4.spikes(spk, col, 1.6)
P4.segs(p4_fit, FIT, 1.2)
ylab(P4, p4_ylabels, 28, -5)
P4.names(p4_names)
P4.title(-0.123, -1.54, "E(\u03c9)")
P4.title(0.829, -1.77, "\u03c9")

chart = (
    alt.layer(P1.chart(), P2.chart(), P3.chart(), P4.chart())
    .resolve_scale(x="independent", y="independent")
    .properties(width=1089, height=907, padding=0, autosize=alt.AutoSizeParams(type="none"),
                background="white")
    .configure_view(strokeWidth=0)
)

chart.save("out.html", embed_options={"renderer": "svg", "actions": False})
